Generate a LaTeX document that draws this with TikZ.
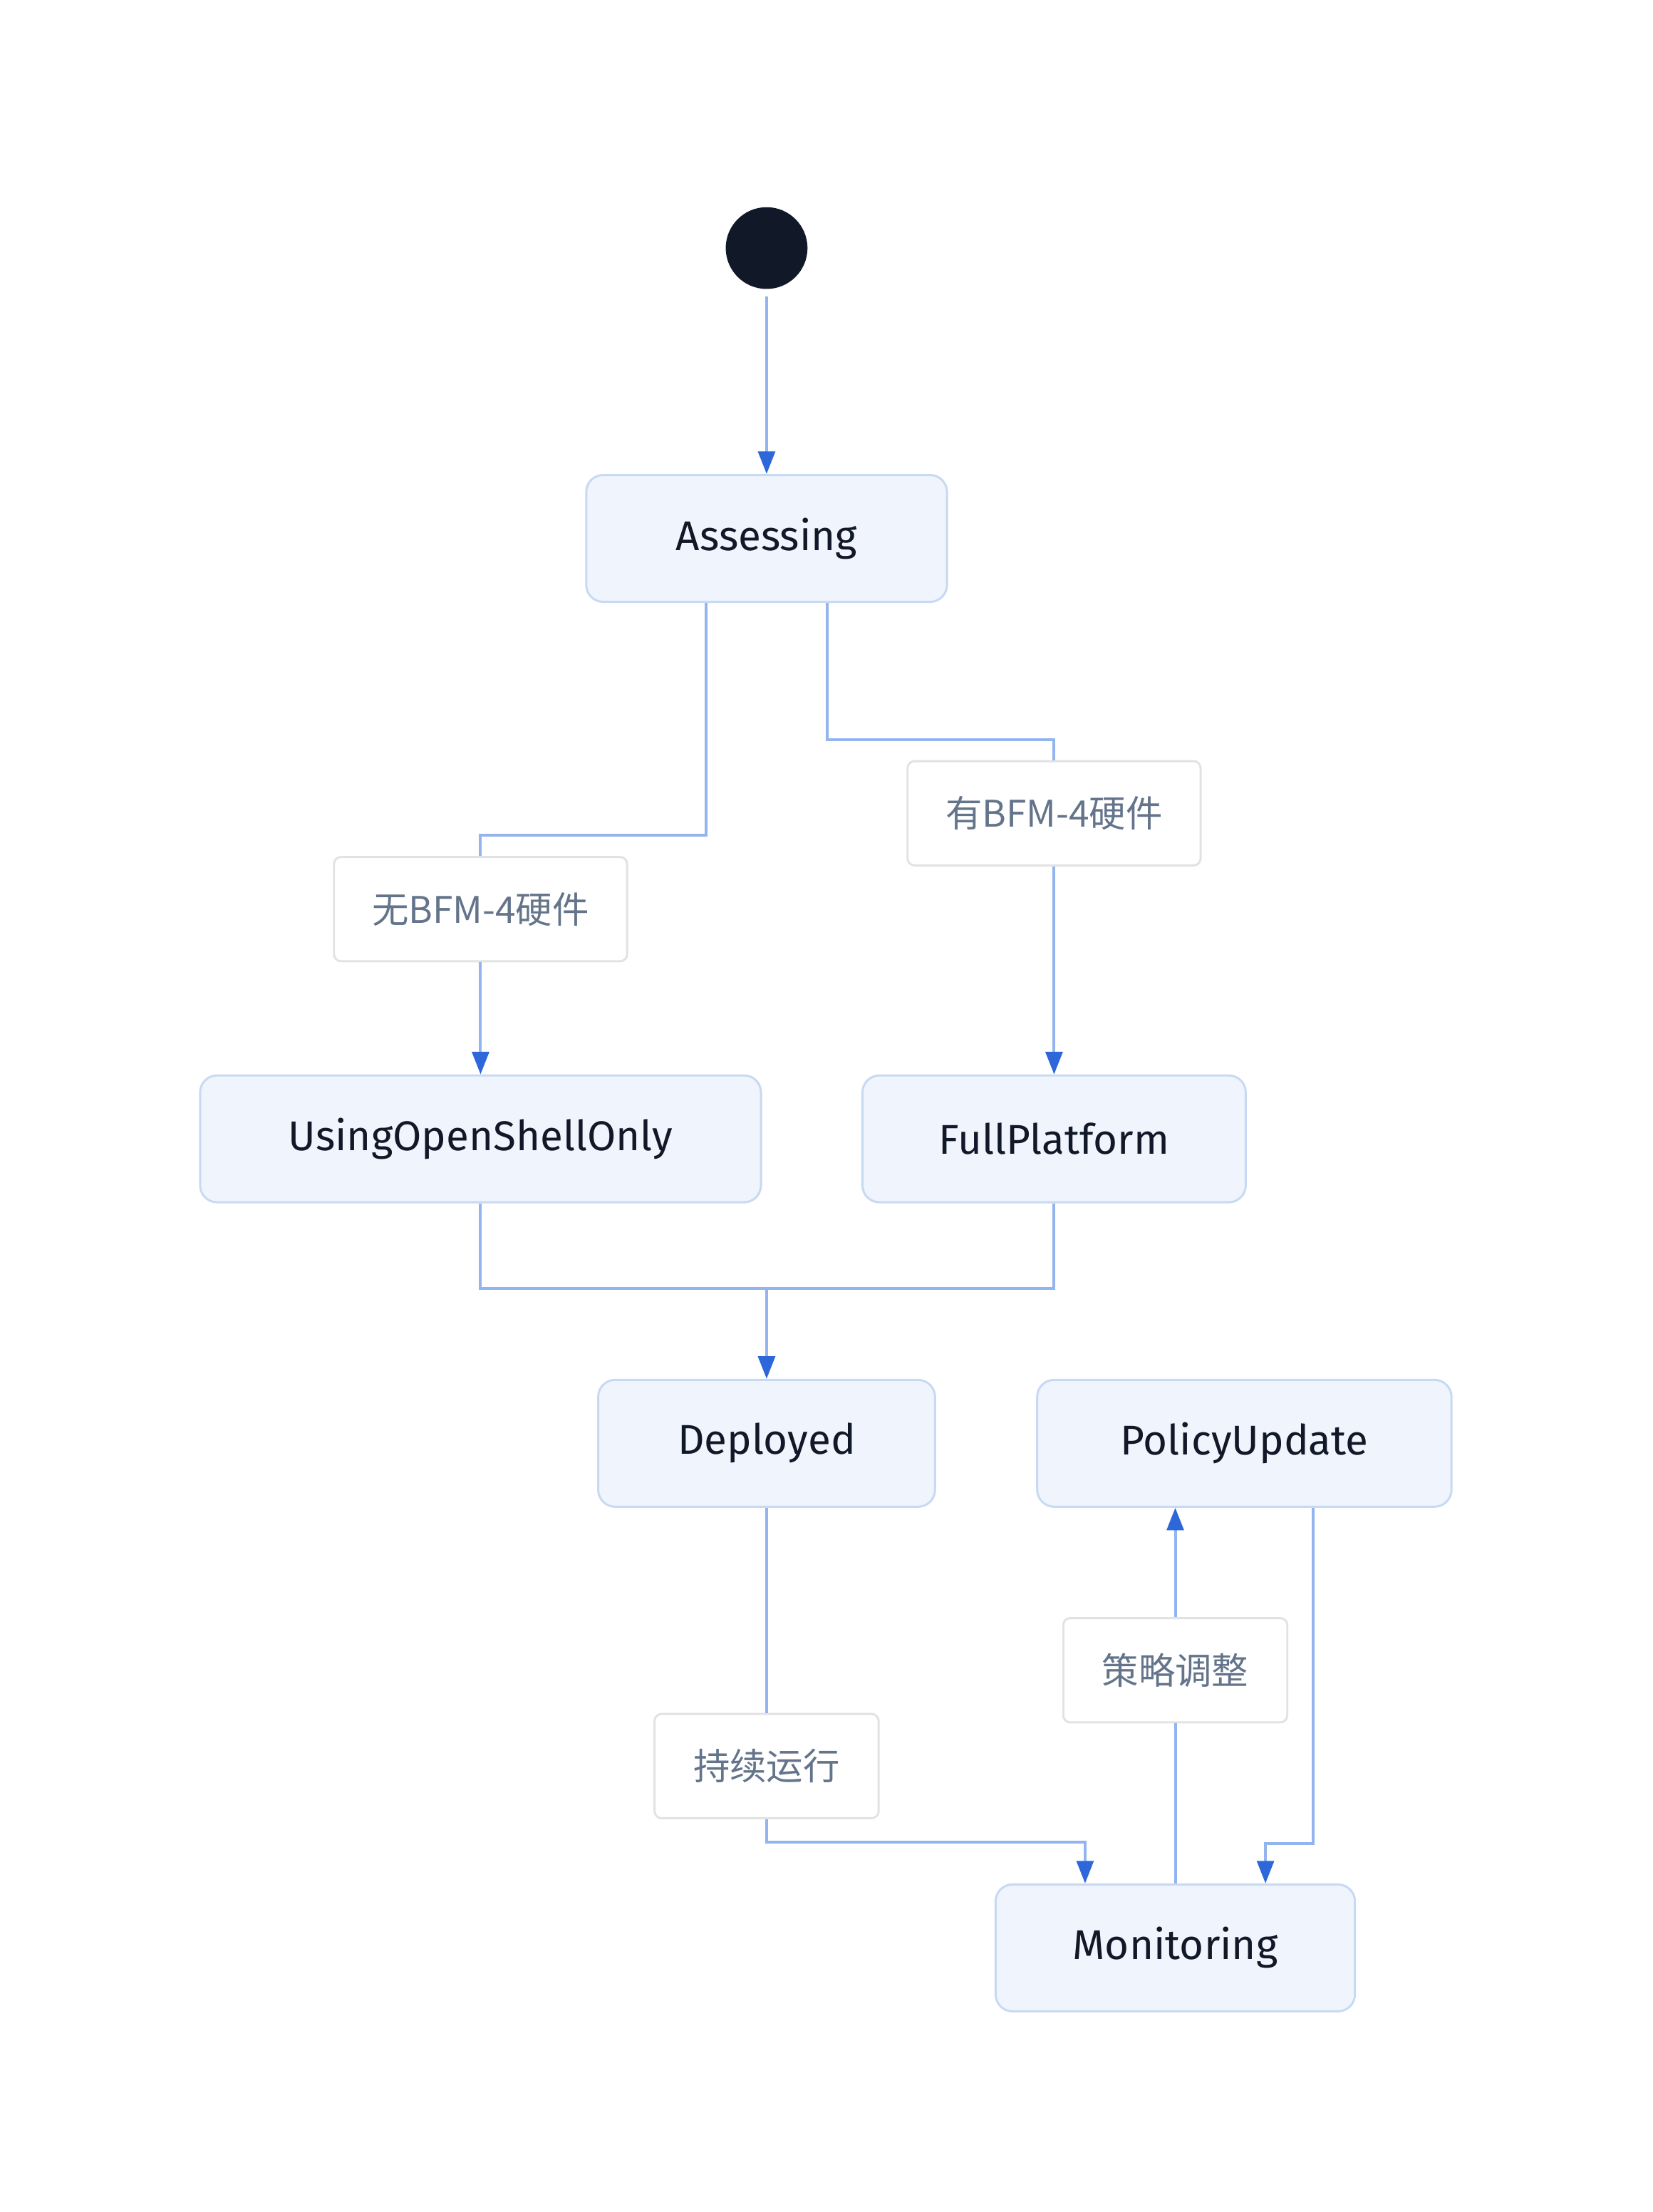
\documentclass[tikz,border=0pt]{standalone}
\usepackage{fontspec}
\usepackage{xcolor}
\usetikzlibrary{arrows.meta,calc}
\setmainfont{Fira Sans}
\newfontfamily\cjk{Noto Sans CJK SC}

\definecolor{statefill}{HTML}{EFF4FD}
\definecolor{stateline}{HTML}{C8D9F3}
\definecolor{statetext}{HTML}{111827}
\definecolor{edgeline}{HTML}{93B4EE}
\definecolor{edgetip}{HTML}{2D67D9}
\definecolor{lblline}{HTML}{E2E2E2}
\definecolor{lbltext}{HTML}{64748B}

\begin{document}
\begin{tikzpicture}[x=1pt,y=-1pt]
        \tikzset{state/.style={draw=stateline,fill=statefill,line width=1.5pt,
                rounded corners=12pt,minimum height=90pt,text=statetext,
                font=\fontsize{29.5}{34}\selectfont},
            lbl/.style={draw=lblline,fill=white,line width=1.5pt,rounded corners=5pt,
                minimum height=74pt,text=lbltext,font=\cjk\fontsize{26}{31}\selectfont},
            edge/.style={draw=edgeline,line width=2pt},
            tip/.style={edge,-{Triangle[color=edgetip,length=16pt,width=12pt]}}}
        \useasboundingbox (0,0) rectangle (1173,1569.4);
        \node[circle,fill=statetext,minimum size=58pt,inner sep=0pt] (start) at (544,176) {};
        \node[state,minimum width=256pt] (ass) at (544,382) {Assessing};
        \node[lbl,minimum width=208pt] (lno) at (341,645) {无BFM-4硬件};
        \node[lbl,minimum width=208pt] (lyes) at (748,577) {有BFM-4硬件};
        \node[state,minimum width=398pt] (uso) at (341,808) {UsingOpenShellOnly};
        \node[state,minimum width=272pt] (full) at (748,808) {FullPlatform};
        \node[state,minimum width=239pt] (dep) at (544,1024) {Deployed};
        \node[state,minimum width=294pt] (pol) at (883,1024) {PolicyUpdate};
        \node[lbl,minimum width=159pt] (lrun) at (544,1253) {持续运行};
        \node[lbl,minimum width=159pt] (ladj) at (834,1185) {策略调整};
        \node[state,minimum width=255pt] (mon) at (834,1382) {Monitoring};
        \coordinate (join) at (544,914);
        % transitions
        \draw[tip,shorten <=5pt] (start) -- (ass);
        \draw[edge] ($(ass.south)+(-43,0)$) -- ++(0,165) -| (lno.north);
        \draw[tip] (lno) -- (uso);
        \draw[edge] ($(ass.south)+(43,0)$) -- ++(0,97) -| (lyes.north);
        \draw[tip] (lyes) -- (full);
        \draw[edge] (uso.south) |- (join);
        \draw[edge] (full.south) |- (join);
        \draw[tip] (join) -- (dep.north);
        \draw[edge] (dep) -- (lrun);
        \draw[tip] (lrun.south) -- ++(0,16) -| ($(mon.north)+(-64,0)$);
        \draw[edge] (mon) -- (ladj);
        \draw[tip] (ladj.north) -- ($(pol.south)+(-49,0)$);
        \draw[tip] ($(pol.south)+(49,0)$) -- ++(0,238) -| ($(mon.north)+(64,0)$);
\end{tikzpicture}
\end{document}
